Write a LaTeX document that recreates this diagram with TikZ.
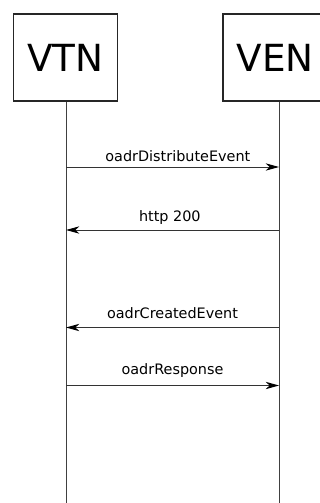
\documentclass[tikz,border=0pt]{standalone}
\usepackage{fontspec}
\setmainfont{DejaVu Sans}
\usetikzlibrary{arrows.meta}
\begin{document}
\begin{tikzpicture}[x=0.75pt,y=-0.75pt,
  actor/.style={draw=black!85, line width=1.4pt, fill=white, minimum width=78pt, minimum height=65.25pt, inner sep=0pt, font=\fontsize{28}{30}\selectfont},
  life/.style={draw=black!75, line width=0.75pt},
  msg/.style={draw=black!80, line width=0.75pt, -{Stealth[length=10pt,width=5.5pt,inset=3pt,color=black]}},
  lbl/.style={font=\fontsize{10.8}{12}\selectfont, anchor=base, inner sep=0pt}]
\useasboundingbox (0,0) rectangle (320,503);
\clip (0,0) rectangle (320,503);
\coordinate (bottom) at (0,503);
\coordinate (vtnx) at (66,0);
\coordinate (venx) at (279,0);
\node[actor] (vtn) at (65.5,57.5) {VTN};
\node[actor] (ven) at (275,57.5) {VEN};
\draw[life] (vtn.south -| vtnx) -- (vtnx |- bottom);
\draw[life] (ven.south -| venx) -- (venx |- bottom);
\coordinate (a1) at (66,167);  \coordinate (b1) at (279,167);
\coordinate (a2) at (66,230);  \coordinate (b2) at (279,230);
\coordinate (a3) at (66,327.5);\coordinate (b3) at (279,327.5);
\coordinate (a4) at (66,385.5);\coordinate (b4) at (279,385.5);
\draw[msg] (a1) -- node[lbl, yshift=4.5pt, xshift=4pt] (m1) {oadrDistributeEvent} (b1);
\draw[msg] (b2) -- node[lbl, yshift=6.2pt, xshift=-2pt] (m2) {http 200} (a2);
\draw[msg] (b3) -- node[lbl, yshift=7pt] (m3) {oadrCreatedEvent} (a3);
\draw[msg] (a4) -- node[lbl, yshift=8pt] (m4) {oadrResponse} (b4);
\end{tikzpicture}
\end{document}
